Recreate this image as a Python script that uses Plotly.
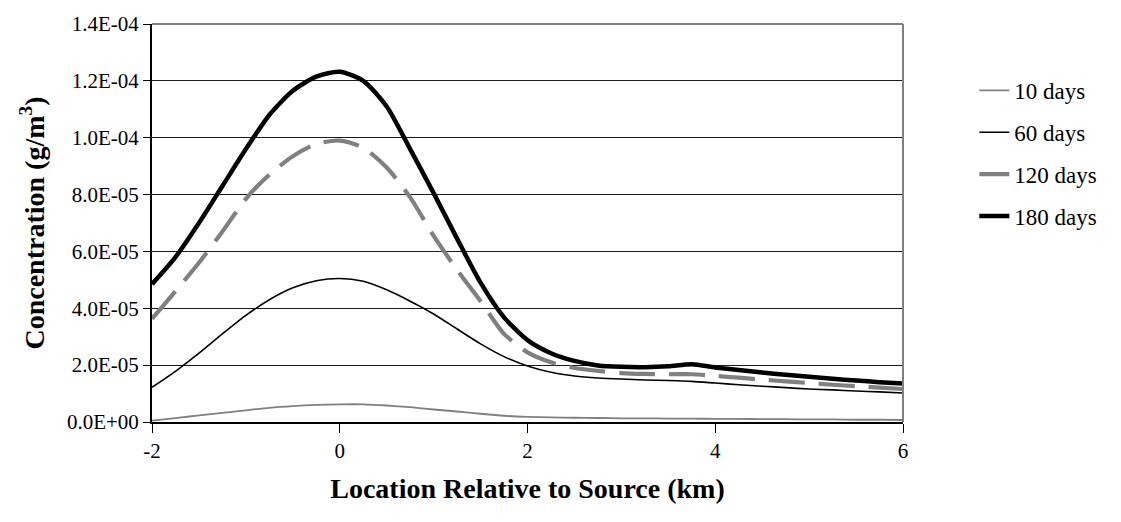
import plotly.graph_objects as go

# Location relative to source (km)
location_km = [-2.0, -1.75, -1.5, -1.25, -1.0, -0.75, -0.5, -0.25, 0.0, 0.25, 0.5, 0.75,
               1.0, 1.25, 1.5, 1.75, 2.0, 2.25, 2.5, 2.75, 3.0, 3.25, 3.5, 3.75,
               4.0, 4.25, 4.5, 4.75, 5.0, 5.25, 5.5, 5.75, 6.0]

# Concentrations in units of 1E-05 g/m3
days_10 = [0.05, 0.14, 0.23, 0.32, 0.41, 0.50, 0.56, 0.60, 0.62, 0.62, 0.58, 0.52,
           0.44, 0.37, 0.29, 0.22, 0.18, 0.16, 0.15, 0.14, 0.13, 0.13, 0.12, 0.12,
           0.11, 0.11, 0.10, 0.10, 0.09, 0.09, 0.08, 0.08, 0.07]
days_60 = [1.22, 1.78, 2.42, 3.10, 3.75, 4.30, 4.72, 4.97, 5.05, 4.95, 4.65, 4.25,
           3.80, 3.27, 2.75, 2.30, 1.97, 1.75, 1.62, 1.55, 1.51, 1.48, 1.46, 1.43,
           1.37, 1.31, 1.26, 1.21, 1.16, 1.13, 1.09, 1.06, 1.02]
days_120 = [3.63, 4.60, 5.60, 6.70, 7.85, 8.70, 9.35, 9.78, 9.90, 9.65, 8.95, 7.90,
            6.55, 5.35, 4.25, 3.10, 2.45, 2.10, 1.90, 1.80, 1.72, 1.69, 1.68, 1.68,
            1.62, 1.56, 1.49, 1.43, 1.37, 1.31, 1.26, 1.21, 1.16]
days_180 = [4.85, 5.80, 7.00, 8.30, 9.60, 10.80, 11.65, 12.15, 12.32, 12.00, 11.10, 9.60,
            8.05, 6.45, 4.90, 3.68, 2.88, 2.42, 2.15, 1.99, 1.94, 1.93, 1.96, 2.03,
            1.92, 1.83, 1.74, 1.66, 1.59, 1.52, 1.46, 1.40, 1.35]

series_names = ["10 days", "60 days", "120 days", "180 days"]

y_tick_vals = [0, 2e-5, 4e-5, 6e-5, 8e-5, 1e-4, 1.2e-4, 1.4e-4]
y_tick_text = ["0.0E+00", "2.0E-05", "4.0E-05", "6.0E-05", "8.0E-05",
               "1.0E-04", "1.2E-04", "1.4E-04"]
x_tick_vals = [-2, 0, 2, 4, 6]
x_tick_text = ["-2", "0", "2", "4", "6"]

SCALE = 1e-5
FONT = "Times New Roman"

styles = [
    dict(color="#808080", width=1.8),
    dict(color="#000000", width=1.6),
    dict(color="#808080", width=4.2, dash="36px,14px"),
    dict(color="#000000", width=4.5),
]

fig = go.Figure()
for name, vals, st in zip(series_names, [days_10, days_60, days_120, days_180], styles):
    fig.add_trace(go.Scatter(
        x=location_km,
        y=[v * SCALE for v in vals],
        mode="lines",
        name=name,
        legendgroup=name,
        line=dict(shape="spline", smoothing=0.7, **st),
    ))

fig.update_layout(
    width=1121, height=522,
    margin=dict(l=152, r=218, t=16, b=100),
    paper_bgcolor="white",
    plot_bgcolor="white",
    font=dict(family=FONT, size=21, color="black"),
    showlegend=True,
    legend=dict(
        x=1.095, y=0.675, xanchor="left", yanchor="middle",
        font=dict(family=FONT, size=23, color="black"),
        bgcolor="rgba(0,0,0,0)",
        tracegroupgap=9,
        itemwidth=30,
    ),
    xaxis=dict(
        range=[-2, 6],
        tickvals=x_tick_vals, ticktext=x_tick_text,
        ticks="outside", ticklen=9, tickwidth=1, tickcolor="black",
        showline=True, linecolor="black", linewidth=2,
        showgrid=False, zeroline=False,
        tickfont=dict(family=FONT, size=21),
        title=dict(text="<b>Location Relative to Source (km)</b>",
                   font=dict(family=FONT, size=28), standoff=16),
    ),
    yaxis=dict(
        range=[0, 1.4e-4],
        tickvals=y_tick_vals, ticktext=y_tick_text,
        ticks="outside", ticklen=7, tickwidth=1, tickcolor="black",
        showline=True, linecolor="black", linewidth=2,
        showgrid=True, gridcolor="#1a1a1a", gridwidth=1,
        zeroline=False,
        tickfont=dict(family=FONT, size=21),
        title=dict(text="<b>Concentration (g/m<sup>3</sup>)</b>",
                   font=dict(family=FONT, size=28), standoff=14),
    ),
)

# gray plot-area border (top and right)
fig.add_shape(type="line", xref="paper", yref="paper", x0=0, x1=1, y0=1, y1=1,
              line=dict(color="#808080", width=2))
fig.add_shape(type="line", xref="paper", yref="paper", x0=1, x1=1, y0=0, y1=1,
              line=dict(color="#808080", width=2))

fig.write_html("out.html")
